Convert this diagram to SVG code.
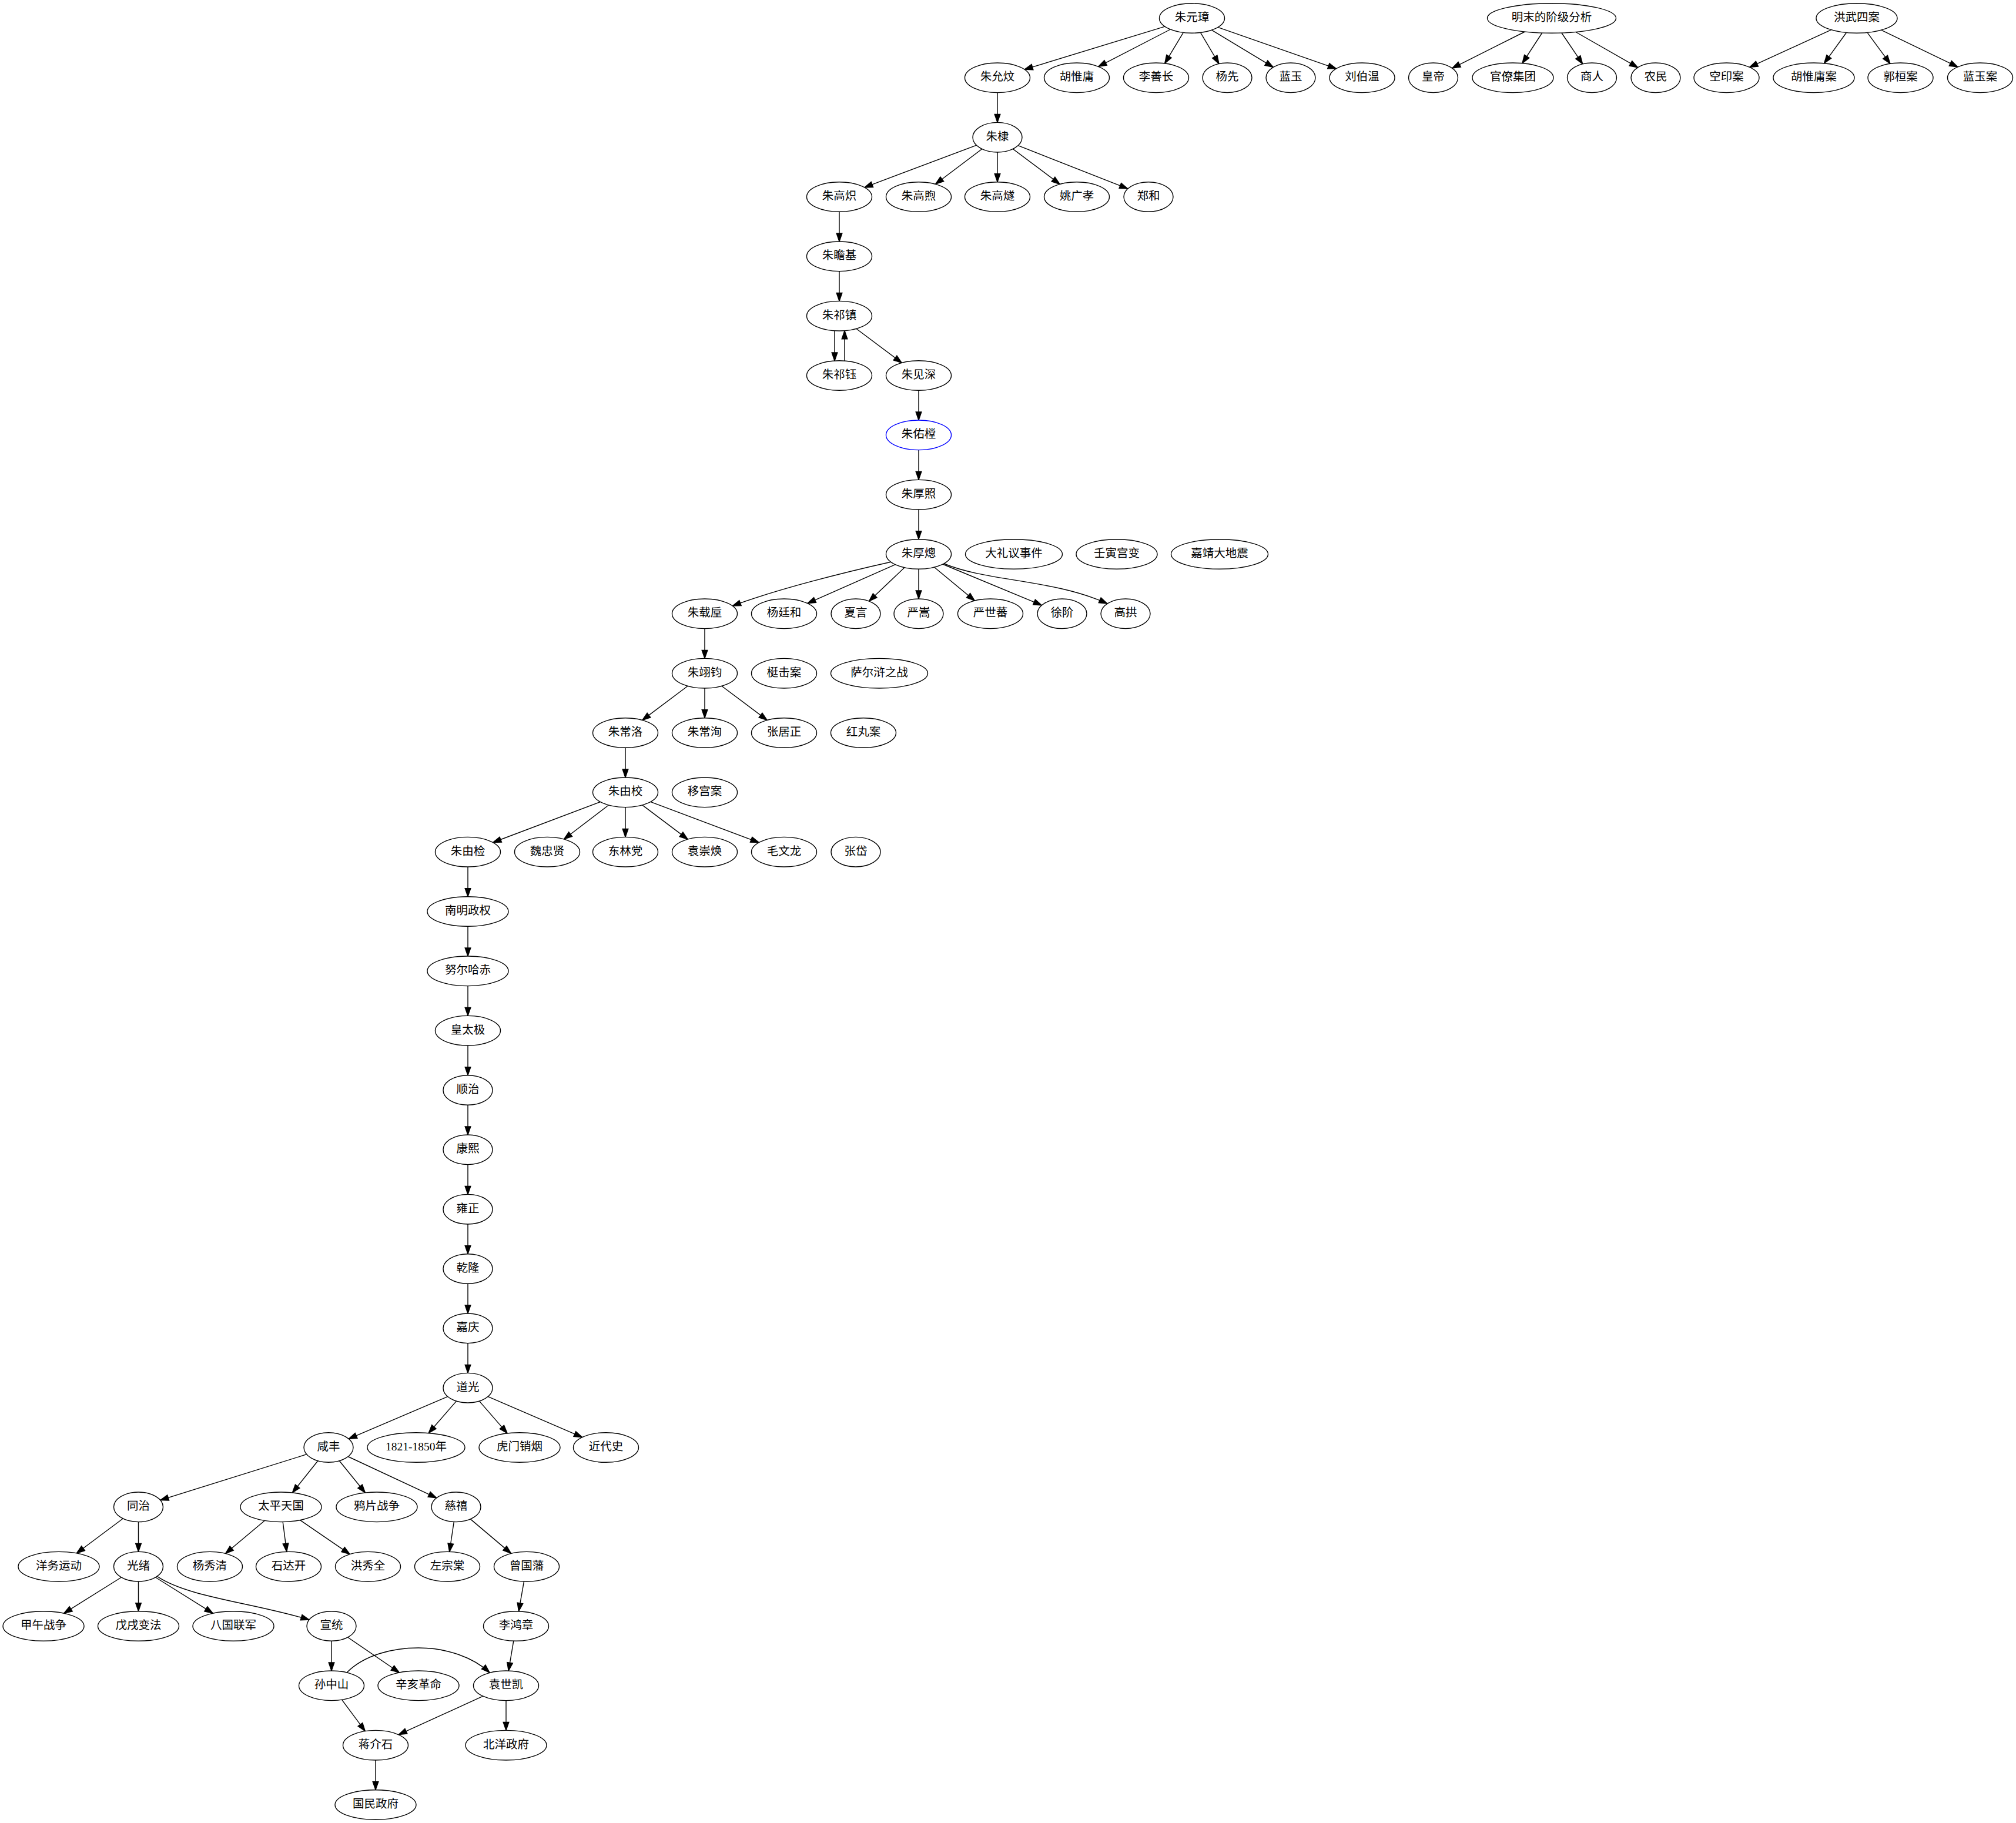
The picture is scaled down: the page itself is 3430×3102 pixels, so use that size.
<svg xmlns="http://www.w3.org/2000/svg" width="3430" height="3102" viewBox="0 0 3430 3102">
<defs>
<marker id="arr" markerUnits="userSpaceOnUse" viewBox="0 0 15 11" markerWidth="15" markerHeight="11" refX="14.5" refY="5.5" orient="auto" overflow="visible">
<path d="M0.5,0.7 L14.5,5.5 L0.5,10.3 Z" fill="#000" stroke="#000" stroke-width="1.4" stroke-linejoin="miter"/>
</marker>
</defs>
<style>
.node ellipse{fill:#fff;stroke:#000;stroke-width:1.4}
.node.blue ellipse{stroke:#0000ff}
.node text{font-family:"Liberation Serif","Noto Sans CJK SC",serif;font-size:19.5px;text-anchor:middle;fill:#000}
#edges path{fill:none;stroke:#000;stroke-width:1.4;marker-end:url(#arr)}
</style>
<rect x="0" y="0" width="3430" height="3102" fill="#fff"/>
<g id="edges">
<path d="M1981.9,45.1 L1743.1,118.2"/>
<path d="M1991.3,50.0 L1868.7,113.3"/>
<path d="M2013.3,55.4 L1981.7,107.9"/>
<path d="M2042.5,55.4 L2073.9,108.5"/>
<path d="M2061.5,51.2 L2166.3,114.4"/>
<path d="M2072.0,46.4 L2273.5,116.9"/>
<path d="M2594.3,54.0 L2470.7,116.1"/>
<path d="M2623.7,56.0 L2590.0,107.7"/>
<path d="M2656.9,56.0 L2692.7,108.9"/>
<path d="M2681.0,54.5 L2786.6,114.9"/>
<path d="M3115.8,50.7 L2976.7,114.4"/>
<path d="M3141.4,55.5 L3103.6,107.8"/>
<path d="M3177.0,55.4 L3215.9,108.3"/>
<path d="M3200.7,51.1 L3330.9,113.9"/>
<path d="M1697,157.6 V208.4"/>
<path d="M1661.4,247.1 L1470.8,318.9"/>
<path d="M1670.8,253.5 L1591.6,313.3"/>
<path d="M1697,259.0 V309.7"/>
<path d="M1723.3,253.4 L1803.2,313.4"/>
<path d="M1732.1,247.6 L1918.9,321.1"/>
<path d="M1428,360.3 V411.0"/>
<path d="M1428,461.6 V512.4"/>
<path d="M1420,562.7 V614.0"/>
<path d="M1437,614.0 V562.7"/>
<path d="M1456.8,559.3 L1534.2,617.4"/>
<path d="M1563,664.3 V715.0"/>
<path d="M1563,765.6 V816.4"/>
<path d="M1563,867.0 V917.7"/>
<path d="M1515.6,956.2 C1440,973 1320,1003 1246.4,1031.1"/>
<path d="M1523.2,960.6 L1373.8,1026.7"/>
<path d="M1538.9,965.8 L1478.5,1023.0"/>
<path d="M1563,968.3 V1019.0"/>
<path d="M1589.7,965.2 L1658.3,1022.1"/>
<path d="M1604.0,960.0 L1772.4,1029.9"/>
<path d="M1606,959 C1680,990 1790,985 1884,1027"/>
<path d="M1199,1069.6 V1120.4"/>
<path d="M1170.2,1167.3 L1092.8,1225.4"/>
<path d="M1199,1171.0 V1221.7"/>
<path d="M1227.8,1167.3 L1305.2,1225.4"/>
<path d="M1064,1272.3 V1323.0"/>
<path d="M1021.3,1364.5 L838.7,1433.5"/>
<path d="M1035.5,1370.0 L959.5,1428.0"/>
<path d="M1064,1373.6 V1424.4"/>
<path d="M1092.8,1369.9 L1170.2,1428.1"/>
<path d="M1106.8,1364.4 L1291.2,1433.6"/>
<path d="M796,1475.0 V1525.7"/>
<path d="M796,1576.3 V1627.0"/>
<path d="M796,1677.6 V1728.4"/>
<path d="M796,1779.0 V1829.7"/>
<path d="M796,1880.3 V1931.0"/>
<path d="M796,1981.6 V2032.4"/>
<path d="M796,2083.0 V2133.7"/>
<path d="M796,2184.3 V2235.0"/>
<path d="M796,2285.6 V2336.4"/>
<path d="M761.8,2376.3 L593.2,2448.4"/>
<path d="M776.5,2384.1 L729.2,2438.5"/>
<path d="M815.5,2384.1 L863.1,2438.9"/>
<path d="M830.1,2376.4 L990.7,2445.6"/>
<path d="M521.7,2474.7 L272.8,2552.6"/>
<path d="M540.8,2485.8 L497.4,2540.0"/>
<path d="M577.4,2485.8 L621.4,2540.0"/>
<path d="M592.2,2478.5 L742.8,2548.8"/>
<path d="M209.2,2584.0 L130.3,2643.0"/>
<path d="M235.5,2589.6 V2640.4"/>
<path d="M450.3,2587.5 L383.5,2643.5"/>
<path d="M481.2,2589.6 L487.8,2640.4"/>
<path d="M510.6,2586.6 L595.2,2644.6"/>
<path d="M772.3,2589.5 L764.7,2640.5"/>
<path d="M800.4,2584.9 L869.6,2643.4"/>
<path d="M206.4,2684.0 L108.8,2745.2"/>
<path d="M235.5,2691.0 V2741.7"/>
<path d="M264.6,2684.0 L362.2,2745.2"/>
<path d="M267.5,2682.4 C320,2718 430,2727 526,2756.2"/>
<path d="M891.5,2690.9 L882.5,2741.8"/>
<path d="M564,2792.3 V2843.0"/>
<path d="M591.7,2786.0 L679.4,2846.0"/>
<path d="M873.8,2792.2 L865.2,2843.1"/>
<path d="M590,2846 C620,2816 668,2804 712,2804 C760,2804 805,2820 833,2846"/>
<path d="M581.7,2892.3 L621.3,2945.7"/>
<path d="M821.8,2886.2 L678.2,2951.6"/>
<path d="M861,2893.6 V2944.4"/>
<path d="M639,2995.0 V3045.7"/>
</g>
<g id="n1" class="node"><ellipse cx="2028" cy="31" rx="55.5" ry="25.3"/><text x="2028" y="36">朱元璋</text></g>
<g id="n2" class="node"><ellipse cx="2640" cy="31" rx="109.5" ry="25.3"/><text x="2640" y="36">明末的阶级分析</text></g>
<g id="n3" class="node"><ellipse cx="3159" cy="31" rx="69" ry="25.3"/><text x="3159" y="36">洪武四案</text></g>
<g id="n4" class="node"><ellipse cx="1697" cy="132.3" rx="55.5" ry="25.3"/><text x="1697" y="137.3">朱允炆</text></g>
<g id="n5" class="node"><ellipse cx="1832" cy="132.3" rx="55.5" ry="25.3"/><text x="1832" y="137.3">胡惟庸</text></g>
<g id="n6" class="node"><ellipse cx="1967" cy="132.3" rx="55.5" ry="25.3"/><text x="1967" y="137.3">李善长</text></g>
<g id="n7" class="node"><ellipse cx="2088" cy="132.3" rx="42" ry="25.3"/><text x="2088" y="137.3">杨先</text></g>
<g id="n8" class="node"><ellipse cx="2196" cy="132.3" rx="42" ry="25.3"/><text x="2196" y="137.3">蓝玉</text></g>
<g id="n9" class="node"><ellipse cx="2317.5" cy="132.3" rx="55.5" ry="25.3"/><text x="2317.5" y="137.3">刘伯温</text></g>
<g id="n10" class="node"><ellipse cx="2438.5" cy="132.3" rx="42" ry="25.3"/><text x="2438.5" y="137.3">皇帝</text></g>
<g id="n11" class="node"><ellipse cx="2574" cy="132.3" rx="69" ry="25.3"/><text x="2574" y="137.3">官僚集团</text></g>
<g id="n12" class="node"><ellipse cx="2708.5" cy="132.3" rx="42" ry="25.3"/><text x="2708.5" y="137.3">商人</text></g>
<g id="n13" class="node"><ellipse cx="2817" cy="132.3" rx="42" ry="25.3"/><text x="2817" y="137.3">农民</text></g>
<g id="n14" class="node"><ellipse cx="2937.5" cy="132.3" rx="55.5" ry="25.3"/><text x="2937.5" y="137.3">空印案</text></g>
<g id="n15" class="node"><ellipse cx="3086" cy="132.3" rx="69" ry="25.3"/><text x="3086" y="137.3">胡惟庸案</text></g>
<g id="n16" class="node"><ellipse cx="3233.5" cy="132.3" rx="55.5" ry="25.3"/><text x="3233.5" y="137.3">郭桓案</text></g>
<g id="n17" class="node"><ellipse cx="3369" cy="132.3" rx="55.5" ry="25.3"/><text x="3369" y="137.3">蓝玉案</text></g>
<g id="n18" class="node"><ellipse cx="1697" cy="233.7" rx="42" ry="25.3"/><text x="1697" y="238.7">朱棣</text></g>
<g id="n19" class="node"><ellipse cx="1428" cy="335" rx="55.5" ry="25.3"/><text x="1428" y="340">朱高炽</text></g>
<g id="n20" class="node"><ellipse cx="1563" cy="335" rx="55.5" ry="25.3"/><text x="1563" y="340">朱高煦</text></g>
<g id="n21" class="node"><ellipse cx="1697" cy="335" rx="55.5" ry="25.3"/><text x="1697" y="340">朱高燧</text></g>
<g id="n22" class="node"><ellipse cx="1832" cy="335" rx="55.5" ry="25.3"/><text x="1832" y="340">姚广孝</text></g>
<g id="n23" class="node"><ellipse cx="1954" cy="335" rx="42" ry="25.3"/><text x="1954" y="340">郑和</text></g>
<g id="n24" class="node"><ellipse cx="1428" cy="436.3" rx="55.5" ry="25.3"/><text x="1428" y="441.3">朱瞻基</text></g>
<g id="n25" class="node"><ellipse cx="1428" cy="537.7" rx="55.5" ry="25.3"/><text x="1428" y="542.7">朱祁镇</text></g>
<g id="n26" class="node"><ellipse cx="1428" cy="639" rx="55.5" ry="25.3"/><text x="1428" y="644">朱祁钰</text></g>
<g id="n27" class="node"><ellipse cx="1563" cy="639" rx="55.5" ry="25.3"/><text x="1563" y="644">朱见深</text></g>
<g id="n28" class="node blue"><ellipse cx="1563" cy="740.3" rx="55.5" ry="25.3"/><text x="1563" y="745.3">朱佑樘</text></g>
<g id="n29" class="node"><ellipse cx="1563" cy="841.7" rx="55.5" ry="25.3"/><text x="1563" y="846.7">朱厚照</text></g>
<g id="n30" class="node"><ellipse cx="1563" cy="943" rx="55.5" ry="25.3"/><text x="1563" y="948">朱厚熜</text></g>
<g id="n31" class="node"><ellipse cx="1725" cy="943" rx="82.5" ry="25.3"/><text x="1725" y="948">大礼议事件</text></g>
<g id="n32" class="node"><ellipse cx="1900" cy="943" rx="69" ry="25.3"/><text x="1900" y="948">壬寅宫变</text></g>
<g id="n33" class="node"><ellipse cx="2075" cy="943" rx="82.5" ry="25.3"/><text x="2075" y="948">嘉靖大地震</text></g>
<g id="n34" class="node"><ellipse cx="1199" cy="1044.3" rx="55.5" ry="25.3"/><text x="1199" y="1049.3">朱载垕</text></g>
<g id="n35" class="node"><ellipse cx="1334" cy="1044.3" rx="55.5" ry="25.3"/><text x="1334" y="1049.3">杨廷和</text></g>
<g id="n36" class="node"><ellipse cx="1456" cy="1044.3" rx="42" ry="25.3"/><text x="1456" y="1049.3">夏言</text></g>
<g id="n37" class="node"><ellipse cx="1563" cy="1044.3" rx="42" ry="25.3"/><text x="1563" y="1049.3">严嵩</text></g>
<g id="n38" class="node"><ellipse cx="1685" cy="1044.3" rx="55.5" ry="25.3"/><text x="1685" y="1049.3">严世蕃</text></g>
<g id="n39" class="node"><ellipse cx="1807" cy="1044.3" rx="42" ry="25.3"/><text x="1807" y="1049.3">徐阶</text></g>
<g id="n40" class="node"><ellipse cx="1915" cy="1044.3" rx="42" ry="25.3"/><text x="1915" y="1049.3">高拱</text></g>
<g id="n41" class="node"><ellipse cx="1199" cy="1145.7" rx="55.5" ry="25.3"/><text x="1199" y="1150.7">朱翊钧</text></g>
<g id="n42" class="node"><ellipse cx="1334" cy="1145.7" rx="55.5" ry="25.3"/><text x="1334" y="1150.7">梃击案</text></g>
<g id="n43" class="node"><ellipse cx="1496" cy="1145.7" rx="82.5" ry="25.3"/><text x="1496" y="1150.7">萨尔浒之战</text></g>
<g id="n44" class="node"><ellipse cx="1064" cy="1247" rx="55.5" ry="25.3"/><text x="1064" y="1252">朱常洛</text></g>
<g id="n45" class="node"><ellipse cx="1199" cy="1247" rx="55.5" ry="25.3"/><text x="1199" y="1252">朱常洵</text></g>
<g id="n46" class="node"><ellipse cx="1334" cy="1247" rx="55.5" ry="25.3"/><text x="1334" y="1252">张居正</text></g>
<g id="n47" class="node"><ellipse cx="1469" cy="1247" rx="55.5" ry="25.3"/><text x="1469" y="1252">红丸案</text></g>
<g id="n48" class="node"><ellipse cx="1064" cy="1348.3" rx="55.5" ry="25.3"/><text x="1064" y="1353.3">朱由校</text></g>
<g id="n49" class="node"><ellipse cx="1199" cy="1348.3" rx="55.5" ry="25.3"/><text x="1199" y="1353.3">移宫案</text></g>
<g id="n50" class="node"><ellipse cx="796" cy="1449.7" rx="55.5" ry="25.3"/><text x="796" y="1454.7">朱由检</text></g>
<g id="n51" class="node"><ellipse cx="931" cy="1449.7" rx="55.5" ry="25.3"/><text x="931" y="1454.7">魏忠贤</text></g>
<g id="n52" class="node"><ellipse cx="1064" cy="1449.7" rx="55.5" ry="25.3"/><text x="1064" y="1454.7">东林党</text></g>
<g id="n53" class="node"><ellipse cx="1199" cy="1449.7" rx="55.5" ry="25.3"/><text x="1199" y="1454.7">袁崇焕</text></g>
<g id="n54" class="node"><ellipse cx="1334" cy="1449.7" rx="55.5" ry="25.3"/><text x="1334" y="1454.7">毛文龙</text></g>
<g id="n55" class="node"><ellipse cx="1456" cy="1449.7" rx="42" ry="25.3"/><text x="1456" y="1454.7">张岱</text></g>
<g id="n56" class="node"><ellipse cx="796" cy="1551" rx="69" ry="25.3"/><text x="796" y="1556">南明政权</text></g>
<g id="n57" class="node"><ellipse cx="796" cy="1652.3" rx="69" ry="25.3"/><text x="796" y="1657.3">努尔哈赤</text></g>
<g id="n58" class="node"><ellipse cx="796" cy="1753.7" rx="55.5" ry="25.3"/><text x="796" y="1758.7">皇太极</text></g>
<g id="n59" class="node"><ellipse cx="796" cy="1855" rx="42" ry="25.3"/><text x="796" y="1860">顺治</text></g>
<g id="n60" class="node"><ellipse cx="796" cy="1956.3" rx="42" ry="25.3"/><text x="796" y="1961.3">康熙</text></g>
<g id="n61" class="node"><ellipse cx="796" cy="2057.7" rx="42" ry="25.3"/><text x="796" y="2062.7">雍正</text></g>
<g id="n62" class="node"><ellipse cx="796" cy="2159" rx="42" ry="25.3"/><text x="796" y="2164">乾隆</text></g>
<g id="n63" class="node"><ellipse cx="796" cy="2260.3" rx="42" ry="25.3"/><text x="796" y="2265.3">嘉庆</text></g>
<g id="n64" class="node"><ellipse cx="796" cy="2361.7" rx="42" ry="25.3"/><text x="796" y="2366.7">道光</text></g>
<g id="n65" class="node"><ellipse cx="559" cy="2463" rx="42" ry="25.3"/><text x="559" y="2468">咸丰</text></g>
<g id="n66" class="node"><ellipse cx="708" cy="2463" rx="83" ry="25.3"/><text x="708" y="2468">1821-1850年</text></g>
<g id="n67" class="node"><ellipse cx="884" cy="2463" rx="69" ry="25.3"/><text x="884" y="2468">虎门销烟</text></g>
<g id="n68" class="node"><ellipse cx="1031" cy="2463" rx="55.5" ry="25.3"/><text x="1031" y="2468">近代史</text></g>
<g id="n69" class="node"><ellipse cx="235.5" cy="2564.3" rx="42" ry="25.3"/><text x="235.5" y="2569.3">同治</text></g>
<g id="n70" class="node"><ellipse cx="478" cy="2564.3" rx="69" ry="25.3"/><text x="478" y="2569.3">太平天国</text></g>
<g id="n71" class="node"><ellipse cx="641" cy="2564.3" rx="69" ry="25.3"/><text x="641" y="2569.3">鸦片战争</text></g>
<g id="n72" class="node"><ellipse cx="776" cy="2564.3" rx="42" ry="25.3"/><text x="776" y="2569.3">慈禧</text></g>
<g id="n73" class="node"><ellipse cx="100" cy="2665.7" rx="69" ry="25.3"/><text x="100" y="2670.7">洋务运动</text></g>
<g id="n74" class="node"><ellipse cx="235.5" cy="2665.7" rx="42" ry="25.3"/><text x="235.5" y="2670.7">光绪</text></g>
<g id="n75" class="node"><ellipse cx="357" cy="2665.7" rx="55.5" ry="25.3"/><text x="357" y="2670.7">杨秀清</text></g>
<g id="n76" class="node"><ellipse cx="491" cy="2665.7" rx="55.5" ry="25.3"/><text x="491" y="2670.7">石达开</text></g>
<g id="n77" class="node"><ellipse cx="626" cy="2665.7" rx="55.5" ry="25.3"/><text x="626" y="2670.7">洪秀全</text></g>
<g id="n78" class="node"><ellipse cx="761" cy="2665.7" rx="55.5" ry="25.3"/><text x="761" y="2670.7">左宗棠</text></g>
<g id="n79" class="node"><ellipse cx="896" cy="2665.7" rx="55.5" ry="25.3"/><text x="896" y="2670.7">曾国藩</text></g>
<g id="n80" class="node"><ellipse cx="74" cy="2767" rx="69" ry="25.3"/><text x="74" y="2772">甲午战争</text></g>
<g id="n81" class="node"><ellipse cx="235.5" cy="2767" rx="69" ry="25.3"/><text x="235.5" y="2772">戊戌变法</text></g>
<g id="n82" class="node"><ellipse cx="397" cy="2767" rx="69" ry="25.3"/><text x="397" y="2772">八国联军</text></g>
<g id="n83" class="node"><ellipse cx="564" cy="2767" rx="42" ry="25.3"/><text x="564" y="2772">宣统</text></g>
<g id="n84" class="node"><ellipse cx="878" cy="2767" rx="55.5" ry="25.3"/><text x="878" y="2772">李鸿章</text></g>
<g id="n85" class="node"><ellipse cx="564" cy="2868.3" rx="55.5" ry="25.3"/><text x="564" y="2873.3">孙中山</text></g>
<g id="n86" class="node"><ellipse cx="712" cy="2868.3" rx="69" ry="25.3"/><text x="712" y="2873.3">辛亥革命</text></g>
<g id="n87" class="node"><ellipse cx="861" cy="2868.3" rx="55.5" ry="25.3"/><text x="861" y="2873.3">袁世凯</text></g>
<g id="n88" class="node"><ellipse cx="639" cy="2969.7" rx="55.5" ry="25.3"/><text x="639" y="2974.7">蒋介石</text></g>
<g id="n89" class="node"><ellipse cx="861" cy="2969.7" rx="69" ry="25.3"/><text x="861" y="2974.7">北洋政府</text></g>
<g id="n90" class="node"><ellipse cx="639" cy="3071" rx="69" ry="25.3"/><text x="639" y="3076">国民政府</text></g>
</svg>
